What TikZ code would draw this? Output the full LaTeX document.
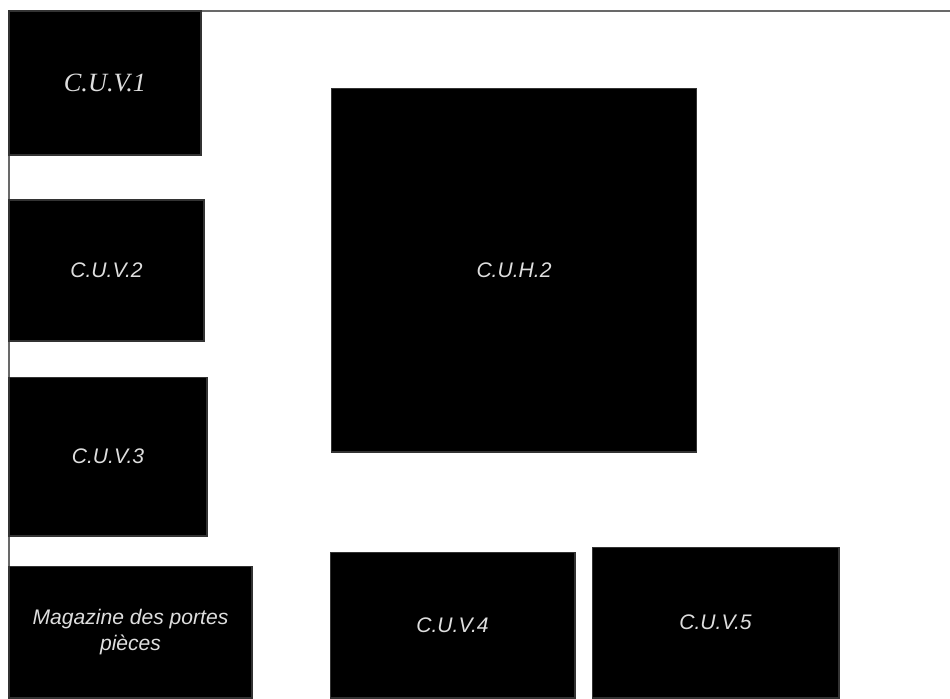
\documentclass[tikz,border=0pt]{standalone}
\usepackage{fontspec}
\setmainfont{Liberation Sans}
\newfontfamily\serifit{Liberation Serif}
\usepackage{xcolor}
\usetikzlibrary{positioning}
\definecolor{PlanInk}{RGB}{0, 0, 0}
\definecolor{PlanText}{RGB}{222, 222, 222}
\definecolor{PlanEdge}{RGB}{105, 105, 105}

\begin{document}
\begin{tikzpicture}[
      x=0.02cm, y=-0.02cm,
      every node/.style={align=center},
      bloc/.style={rectangle, fill=PlanInk, draw=PlanInk!80!white, line width=0.6pt, inner sep=0pt, text=PlanText, font=\fontsize{12}{14.5}\selectfont\itshape},
      serifbloc/.style={bloc, font=\fontsize{15}{18}\selectfont\serifit\itshape},
      wall/.style={draw=PlanEdge, line width=1.1pt}
    ]
      \useasboundingbox (0,0) rectangle (950,698);

      % Outline of the hall
      \coordinate (wallbl) at (9,698);
      \coordinate (walltl) at (9,11);
      \coordinate (walltr) at (950,11);
      \draw[wall] (wallbl) -- (walltl) -- (walltr);

      % Left column
      \node[serifbloc, minimum width=3.84cm, minimum height=2.88cm] (cuv1) at (105,83) {C.U.V.1};
      \node[bloc, minimum width=3.9cm, minimum height=2.82cm] (cuv2) at (106.5,270.5) {C.U.V.2};
      \node[bloc, minimum width=3.96cm, minimum height=3.18cm] (cuv3) at (108,456.5) {C.U.V.3};
      \node[bloc, minimum width=4.86cm, minimum height=2.64cm] (mag) at (130.5,632) {Magazine des portes\\pièces};

      % Centre
      \node[bloc, minimum width=7.32cm, minimum height=7.28cm] (cuh2) at (514,270) {C.U.H.2};

      % Bottom row
      \node[bloc, minimum width=4.9cm, minimum height=2.92cm] (cuv4) at (452.5,625) {C.U.V.4};
      \node[bloc, minimum width=4.94cm, minimum height=3.02cm] (cuv5) at (715.5,622.5) {C.U.V.5};
    \end{tikzpicture}
\end{document}
